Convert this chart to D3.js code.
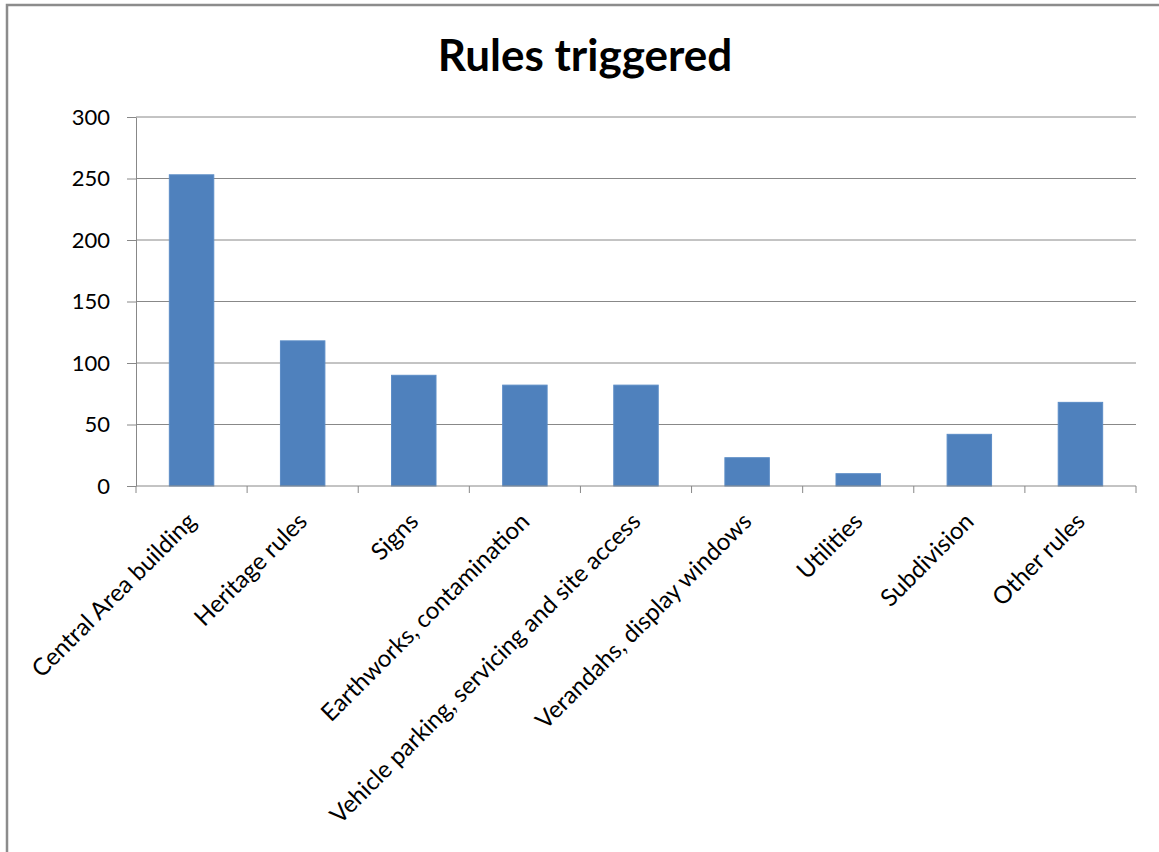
<!DOCTYPE html>
<meta charset="utf-8">
<style>
body { margin: 0; background: #fff; }
svg { display: block; font-family: Lato, "Liberation Sans", sans-serif; }
.grid line { stroke: #888; stroke-width: 1px; }
.axis path, .axis line { stroke: #888; }
.axis text { fill: #000; font-family: Lato, "Liberation Sans", sans-serif; }
</style>
<svg width="1159" height="852"></svg>
<script src="https://d3js.org/d3.v7.min.js"></script>
<script>

var categories = ["Central Area building", "Heritage rules", "Signs", "Earthworks, contamination",
  "Vehicle parking, servicing and site access", "Verandahs, display windows",
  "Utilities", "Subdivision", "Other rules"];
var values = [253, 118, 90, 82, 82, 23, 10, 42, 68];
var yTicks = [0, 50, 100, 150, 200, 250, 300];

var svg = d3.select("svg"),
    width = +svg.attr("width"),
    height = +svg.attr("height");

var margin = {top: 117, right: 23, bottom: 366, left: 136};
var x0 = margin.left, x1 = width - margin.right,
    y0 = height - margin.bottom, y1 = margin.top;

// chart frame (runs off the right and bottom edge in the original)
svg.append("rect")
    .attr("x", 7).attr("y", 5)
    .attr("width", width + 20).attr("height", height + 20)
    .attr("fill", "none")
    .attr("stroke", "#8c8c8c")
    .attr("stroke-width", 2.5);

svg.append("text")
    .attr("x", 585).attr("y", 71)
    .attr("text-anchor", "middle")
    .style("font-size", "44px")
    .style("font-weight", "bold")
    .text("Rules triggered");

var x = d3.scaleBand().domain(categories).range([x0, x1]).paddingInner(0).paddingOuter(0);
var y = d3.scaleLinear().domain([0, 300]).range([y0, y1]);

// gridlines
svg.append("g").attr("class", "grid")
  .selectAll("line")
  .data(yTicks.filter(function(d) { return d > 0; }))
  .enter().append("line")
    .attr("x1", x0).attr("x2", x1)
    .attr("y1", function(d) { return y(d); })
    .attr("y2", function(d) { return y(d); });

// bars (gap width 150%)
var bw = x.bandwidth() / 2.5;
svg.append("g")
  .selectAll("rect")
  .data(values)
  .enter().append("rect")
    .attr("x", function(d, i) { return x(categories[i]) + (x.bandwidth() - bw) / 2; })
    .attr("y", function(d) { return y(d); })
    .attr("width", bw)
    .attr("height", function(d) { return y0 - y(d); })
    .attr("fill", "#4f81bd")
    .attr("stroke", "#5b8cc6")
    .attr("stroke-width", 1);

// y axis
var yAxis = svg.append("g").attr("class", "axis")
    .attr("transform", "translate(" + x0 + ",0)")
    .call(d3.axisLeft(y).tickValues(yTicks).tickSize(9).tickPadding(17).tickSizeOuter(0));
yAxis.selectAll("text").style("font-size", "22px");

// x axis: ticks on category boundaries
var xg = svg.append("g").attr("class", "axis");
xg.append("line")
    .attr("x1", x0).attr("x2", x1)
    .attr("y1", y0).attr("y2", y0);
xg.selectAll("line.tick")
  .data(d3.range(categories.length + 1))
  .enter().append("line")
    .attr("class", "tick")
    .attr("x1", function(i) { return x0 + i * x.bandwidth(); })
    .attr("x2", function(i) { return x0 + i * x.bandwidth(); })
    .attr("y1", y0).attr("y2", y0 + 7);

xg.selectAll("text")
  .data(categories)
  .enter().append("text")
    .attr("transform", function(d) {
      return "translate(" + (x(d) + x.bandwidth() / 2 + 6) + "," + (y0 + 37) + ") rotate(-45)";
    })
    .attr("text-anchor", "end")
    .style("font-size", "24px")
    .text(function(d) { return d; });

</script>
